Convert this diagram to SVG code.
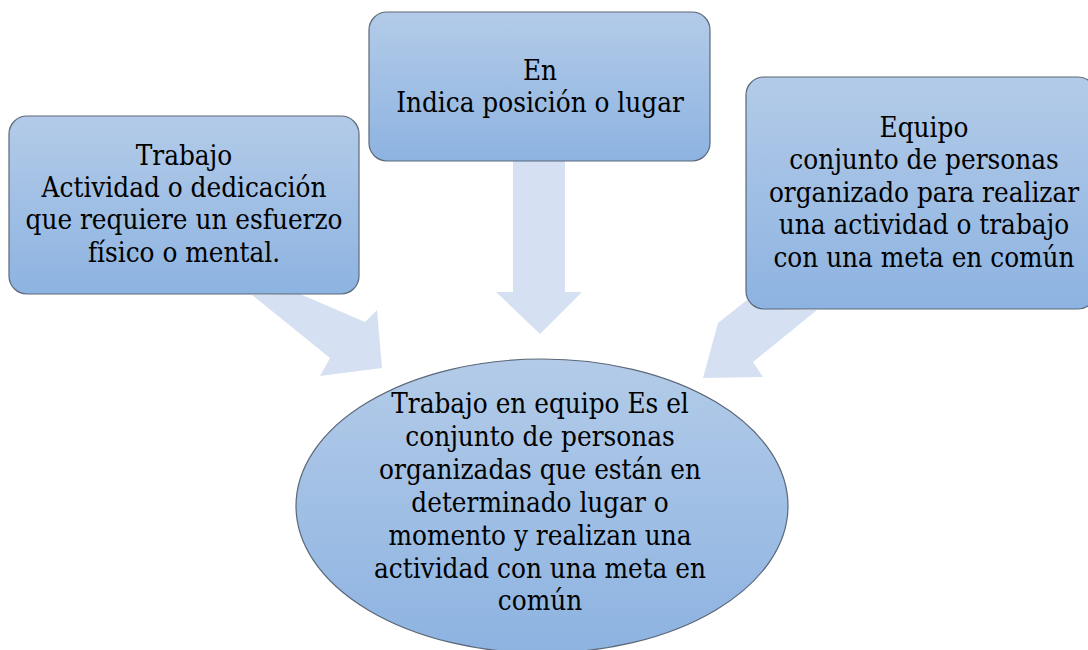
<svg xmlns="http://www.w3.org/2000/svg" width="1088" height="650" viewBox="0 0 1088 650">
<defs>
<linearGradient id="g" x1="0" y1="0" x2="0" y2="1">
<stop offset="0" stop-color="#b3cbe8"/>
<stop offset="1" stop-color="#8db3e1"/>
</linearGradient>
<style>
.box{fill:url(#g);stroke:#5b6878;stroke-width:1.2}
.arr{fill:#d5e1f2;stroke:none}
.t{font-family:'DejaVu Serif Condensed','DejaVu Serif',serif;font-stretch:condensed;font-size:27.6px;fill:#000;text-anchor:middle}
</style>
</defs>
<rect width="1088" height="650" fill="#fff"/>
<g id="connectors">
<polygon class="arr" points="513,161 565,161 565,292 582,292 540,334 496,292 513,292"/>
<polygon class="arr" points="252,295 300,294 365,322 377,310 382,368 320,376 330,358"/>
<polygon class="arr" points="817,310 753,362 763,377 703,378 718,323 747,300 770,309"/>
</g>
<g id="node-trabajo">
<rect class="box" x="9" y="116" width="350" height="178" rx="18"/>
<text class="t" x="184" y="165">Trabajo</text>
<text class="t" x="184" y="197">Actividad o dedicación</text>
<text class="t" x="184" y="229">que requiere un esfuerzo</text>
<text class="t" x="184" y="262">físico o mental.</text>
</g>
<g id="node-en">
<rect class="box" x="369" y="12" width="341" height="149" rx="18"/>
<text class="t" x="540" y="80">En</text>
<text class="t" x="540" y="112">Indica posición o lugar</text>
</g>
<g id="node-equipo">
<rect class="box" x="746" y="77" width="350" height="232" rx="18"/>
<text class="t" x="924" y="137">Equipo</text>
<text class="t" x="924" y="169">conjunto de personas</text>
<text class="t" x="924" y="202">organizado para realizar</text>
<text class="t" x="924" y="234">una actividad o trabajo</text>
<text class="t" x="924" y="267">con una meta en común</text>
</g>
<g id="node-trabajo-en-equipo">
<ellipse class="box" cx="542" cy="506" rx="246" ry="147"/>
<text class="t" x="540" y="413">Trabajo en equipo Es el</text>
<text class="t" x="540" y="446">conjunto de personas</text>
<text class="t" x="540" y="479">organizadas que están en</text>
<text class="t" x="540" y="512">determinado lugar o</text>
<text class="t" x="540" y="545">momento y realizan una</text>
<text class="t" x="540" y="578">actividad con una meta en</text>
<text class="t" x="540" y="610">común</text>
</g>
</svg>
